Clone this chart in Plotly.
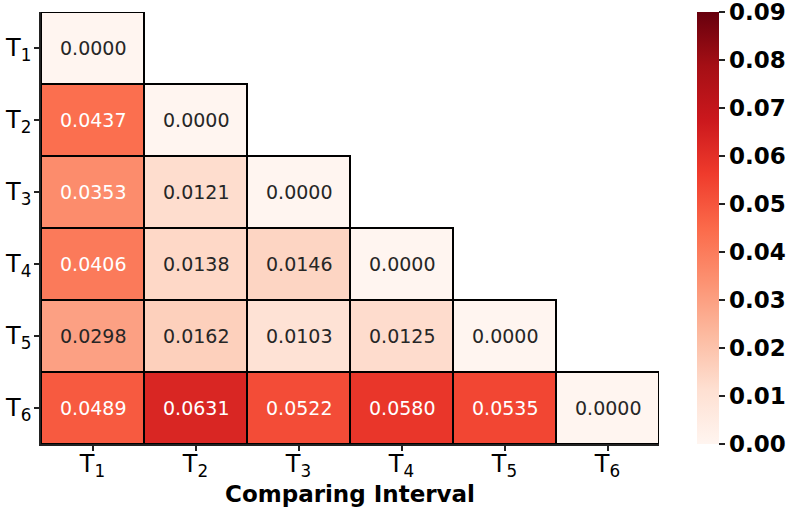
import numpy as np
import plotly.graph_objects as go

labels = ["T<sub>1</sub>", "T<sub>2</sub>", "T<sub>3</sub>", "T<sub>4</sub>", "T<sub>5</sub>", "T<sub>6</sub>"]
row_T1 = [0.0000, None, None, None, None, None]
row_T2 = [0.0437, 0.0000, None, None, None, None]
row_T3 = [0.0353, 0.0121, 0.0000, None, None, None]
row_T4 = [0.0406, 0.0138, 0.0146, 0.0000, None, None]
row_T5 = [0.0298, 0.0162, 0.0103, 0.0125, 0.0000, None]
row_T6 = [0.0489, 0.0631, 0.0522, 0.0580, 0.0535, 0.0000]
rows = [row_T1, row_T2, row_T3, row_T4, row_T5, row_T6]
cbar_ticks = [0.00, 0.01, 0.02, 0.03, 0.04, 0.05, 0.06, 0.07, 0.08, 0.09]
x_title = "Comparing Interval"

n = len(labels)
z = [[np.nan if v is None else v for v in r] for r in rows]
idx = list(range(n))

fig = go.Figure()
fig.add_trace(go.Heatmap(
    z=z, x=idx, y=idx, colorscale="Reds", zmin=0.0, zmax=0.0900001,
    hoverongaps=False,
    colorbar=dict(
        thickness=22, len=1.0, lenmode="fraction", y=0.5, yanchor="middle",
        x=1.0615, xanchor="left", xref="paper", xpad=0, ypad=0,
        outlinewidth=0, tickvals=cbar_ticks,
        ticktext=[f"{t:.2f}" for t in cbar_ticks],
        ticks="outside", ticklen=6, tickwidth=1.5, tickcolor="#222",
        ticklabeloverflow="allow",
        tickfont=dict(family="DejaVu Sans", size=23, color="black", weight="bold"),
    ),
))

shapes = []
annotations = []
for i, r in enumerate(rows):
    for j, v in enumerate(r):
        if v is None:
            continue
        shapes.append(dict(type="rect", xref="x", yref="y",
                           x0=j - 0.5, x1=j + 0.5, y0=i - 0.5, y1=i + 0.5,
                           line=dict(color="black", width=2), layer="above"))
        annotations.append(dict(x=j, y=i, xref="x", yref="y", text=f"{v:.4f}",
                                showarrow=False,
                                font=dict(family="DejaVu Sans", size=19,
                                          color="white" if v > 0.032 else "#262626")))

fig.update_layout(
    width=794, height=510,
    margin=dict(l=41, r=135, t=12, b=66, autoexpand=False),
    paper_bgcolor="white", plot_bgcolor="white",
    shapes=shapes, annotations=annotations,
    xaxis=dict(range=[-0.5, n - 0.5], tickvals=idx, ticktext=labels,
               showgrid=False, zeroline=False, showline=True, linecolor="#222", linewidth=1.5,
               ticks="outside", ticklen=5, tickwidth=1.5, tickcolor="#222",
               ticklabelstandoff=-8,
               tickfont=dict(family="DejaVu Sans", size=24, color="black"),
               title=dict(text=x_title, standoff=0,
                          font=dict(family="DejaVu Sans", size=23, color="black", weight="bold"))),
    yaxis=dict(range=[n - 0.5, -0.5], tickvals=idx, ticktext=labels,
               showgrid=False, zeroline=False, showline=True, linecolor="#222", linewidth=1.5,
               ticks="outside", ticklen=5, tickwidth=1.5, tickcolor="#222",
               ticklabelstandoff=-2,
               tickfont=dict(family="DejaVu Sans", size=24, color="black")),
)

fig.write_html("out.html", config={"displayModeBar": False},
               post_script="document.body.style.margin='0';document.body.style.overflow='hidden';")
